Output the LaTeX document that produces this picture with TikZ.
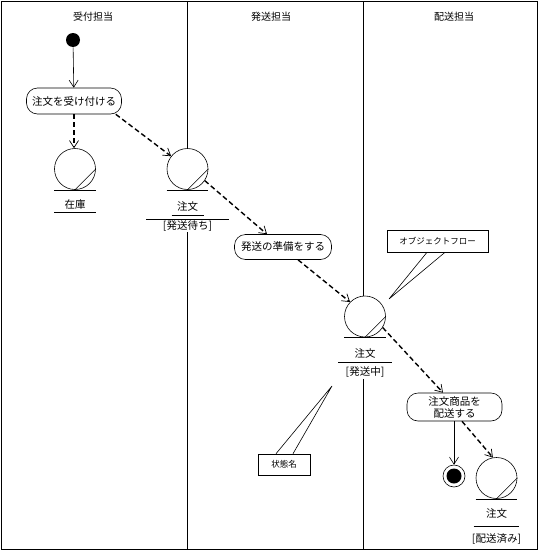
\documentclass[tikz,border=0pt]{standalone}
\usepackage{fontspec}
\setmainfont{Noto Sans CJK JP}
\usetikzlibrary{arrows.meta,positioning}

\begin{document}
\begin{tikzpicture}[x=1pt, y=-1pt, line width=0.6pt,
		lane/.style   = {font=\fontsize{10}{12}\selectfont},
		act/.style    = {draw, rounded corners=11pt, fill=white, align=center, inner sep=2pt, font=\fontsize{10.5}{12}\selectfont},
		obj/.style    = {draw, circle, fill=white, minimum size=41pt, inner sep=0pt},
		objtxt/.style = {inner sep=1pt, font=\fontsize{10.5}{12}\selectfont},
		note/.style   = {draw, fill=white, inner sep=1pt, font=\fontsize{8.5}{10}\selectfont},
		ctrl/.style   = {-{Straight Barb[length=7pt,width=9pt]}},
		flow/.style   = {-{Straight Barb[length=7pt,width=9pt,line width=0.7pt]}, line width=1.4pt, dash pattern=on 5pt off 3pt}]
		
		\useasboundingbox (0,0) rectangle (541,554);
		
		% frame and swim lanes
		\draw (1,1) rectangle (537,549);
		\coordinate (l1t) at (187,1);
		\coordinate (l1b) at (187,549);
		\coordinate (l2t) at (363,1);
		\coordinate (l2b) at (363,549);
		\foreach \x/\t [count=\i] in {93/受付担当, 271/発送担当, 454/配送担当}
		\node[lane] (h\i) at (\x,17) {\t};
		
		% activities
		\node[circle, fill, minimum size=14pt, inner sep=0pt] (start) at (73,40) {};
		\node[act, minimum width=95pt, minimum height=26pt] (a1) at (74,101) {注文を受け付ける};
		\node[act, minimum width=97pt, minimum height=25pt] (a2) at (283,247) {発送の準備をする};
		\node[act, minimum width=95pt, minimum height=28pt] (a3) at (454.5,407) {注文商品を\\配送する};
		\node[draw, circle, minimum size=22pt, inner sep=0pt] (final) at (454,476) {};
		\fill (final) circle (7.5pt);
		
		% objects
		\node[obj] (o1) at (75,169) {};
		\node[obj] (o2) at (187.5,169) {};
		\node[obj] (o3) at (365,316.5) {};
		\node[obj] (o4) at (496.5,478) {};
		\foreach \o in {o1,o2,o3,o4} {
			\draw (\o.south) -- (\o.east);
			\draw (\o.west |- \o.south) -- (\o.east |- \o.south);
		}
		
		% object names and states, relatively positioned
		\begin{scope}[every node/.style={objtxt}]
			\node [below=9pt of o1] (o1n) {在庫};
			\node [below=11pt of o2] (o2n) {注文};
			\node [below=6pt of o2n] (o2s) {[発送待ち]};
			\node [below=10pt of o3] (o3n) {注文};
			\node [below=6pt of o3n] (o3s) {[発送中]};
			\node [below=9pt of o4] (o4n) {注文};
			\node [below=12pt of o4n] (o4s) {[配送済み]};
		\end{scope}
		\draw ([yshift=-7pt]o1n.center) +(-21,0) -- +(21,0);
		\draw ([yshift=-8pt]o2n.center) +(-16,0) -- +(16,0);
		\draw ([yshift=-12pt]o2n.center) +(-41.5,0) -- +(41.5,0);
		\draw ([yshift=-9pt]o3n.center) +(-27,0) -- +(27,0);
		\draw ([yshift=-12pt]o4n.center) +(-23,0) -- +(22,0);
		
		% lane lines broken by the objects
		\draw (l1t) -- (l1t |- o2.north);
		\draw (l1t |- o2s.south) -- (l1b);
		\draw (l2t) -- (l2t |- o3.north);
		\draw (l2t |- o3s.south) -- (l2b);
		
		% notes
		\node[note, minimum width=101pt, minimum height=22pt] (n1) at (437.5,241) {オブジェクトフロー};
		\coordinate (n1p) at (389,299);
		\draw ([xshift=-10.5pt]n1.south) -- (n1p) -- ([xshift=7.5pt]n1.south);
		\node[note, minimum width=52pt, minimum height=21pt] (n2) at (284,464.5) {状態名};
		\coordinate (n2p) at (332,386);
		\draw ([xshift=-8pt]n2.north) -- (n2p) -- ([xshift=9pt]n2.north);
		
		% control flow and object flow
		\draw[ctrl] (start) -- (a1);
		\draw[flow] (a1.south) -- (a1.south |- o1.north);
		\draw[flow] ([xshift=-6pt]a1.south east) -- (o2.142);
		\draw[flow] (o2.-34) -- ([xshift=-16pt]a2.north);
		\draw[flow] ([xshift=15pt]a2.south) -- (o3.136);
		\draw[flow] (o3.-32) -- ([xshift=-11.5pt]a3.north);
		\draw[ctrl] (a3.south -| final) -- (final.north);
		\draw[flow] ([xshift=7.5pt]a3.south) -- (o4.100);
		
	\end{tikzpicture}
\end{document}
